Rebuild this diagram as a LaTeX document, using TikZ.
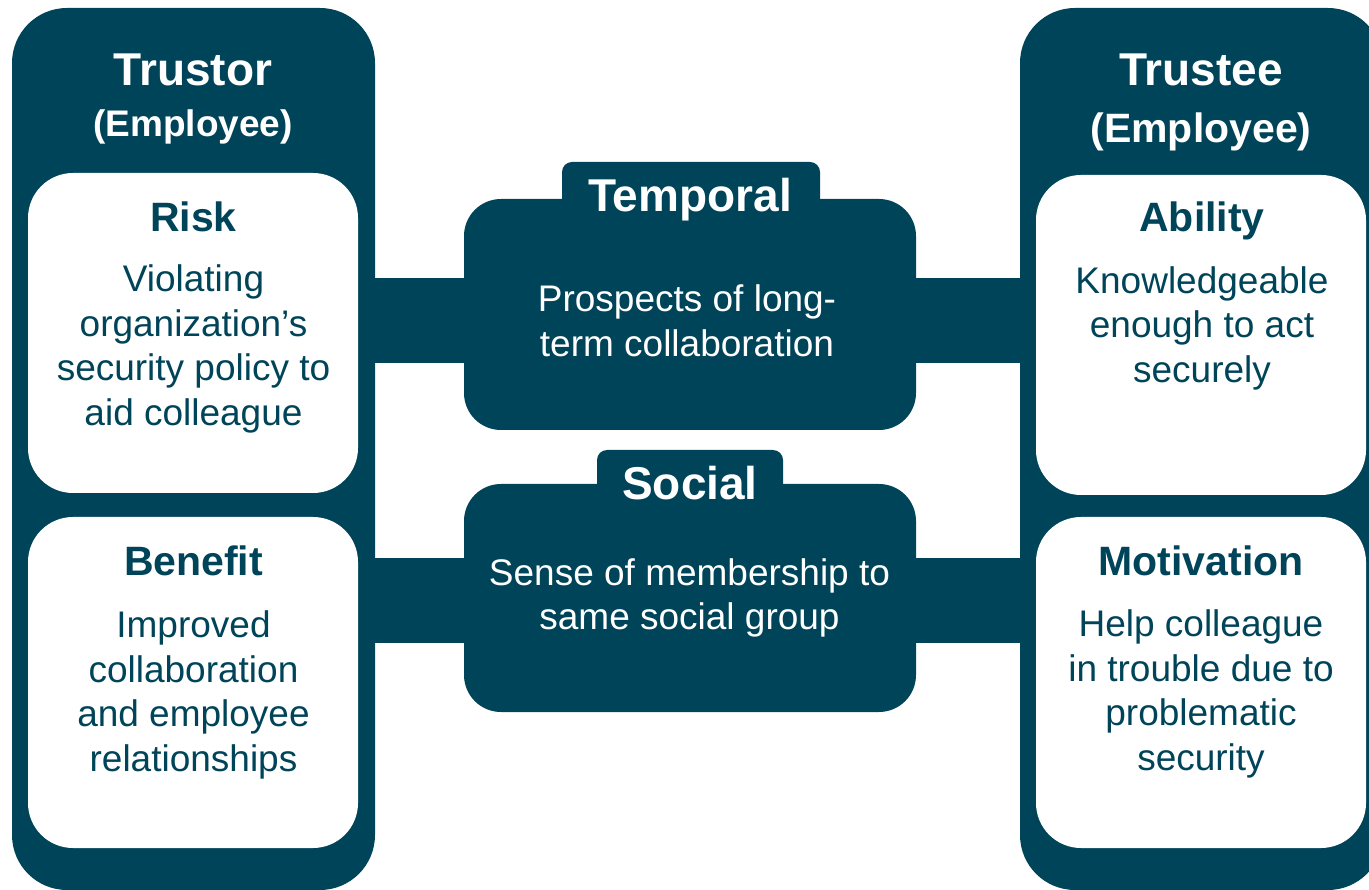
\documentclass[tikz,border=0pt]{standalone}
\usepackage{fontspec}
\setmainfont{Liberation Sans}
\definecolor{tealdark}{RGB}{0,68,89}
\begin{document}
\begin{tikzpicture}[x=1pt,y=-1pt,
  panel/.style={fill=tealdark, draw=none, rounded corners=55pt, inner sep=0pt, outer sep=0pt},
  card/.style={fill=white, draw=none, rounded corners=45pt, inner sep=0pt, outer sep=0pt},
  hub/.style={fill=tealdark, draw=none, rounded corners=37pt, inner sep=0pt, outer sep=0pt},
  tabbox/.style={fill=tealdark, draw=none, rounded corners=10pt, inner sep=0pt, outer sep=0pt},
  bar/.style={draw=tealdark, line width=85pt},
  head/.style={font=\bfseries\fontsize{46}{52}\selectfont, text=white, anchor=base, inner sep=0pt},
  sub/.style={font=\bfseries\fontsize{41}{48}\selectfont, text=tealdark, anchor=base, inner sep=0pt},
  body/.style={font=\fontsize{37}{44.5}\selectfont, align=center, inner sep=0pt, anchor=center},
]
\useasboundingbox (0,0) rectangle (1369,890);
\clip (0,0) rectangle (1369,890);

% side panels
\node[panel, minimum width=363pt, minimum height=882pt] (trustor) at (193.5,449) {};
\node[panel, minimum width=363pt, minimum height=882pt] (trustee) at (1201.5,449) {};

% cards
\node[card, minimum width=330pt, minimum height=320pt] (risk) at (193,333) {};
\node[card, minimum width=330pt, minimum height=331pt] (benefit) at (193,682.5) {};
\node[card, minimum width=330pt, minimum height=320pt] (ability) at (1201,335) {};
\node[card, minimum width=330pt, minimum height=331pt] (motivation) at (1201,682.5) {};

% central hubs
\node[tabbox, minimum width=258pt, minimum height=68pt] (ttab) at (691,196) {};
\node[hub, minimum width=452pt, minimum height=231pt] (temporal) at (690,314.5) {};
\node[tabbox, minimum width=186pt, minimum height=68pt] (stab) at (690,484) {};
\node[hub, minimum width=452pt, minimum height=228pt] (social) at (690,598) {};

% connector bars
\coordinate (ty) at (0,320.5);
\coordinate (sy) at (0,600);
\draw[bar] (trustor.east |- ty) -- (temporal.west |- ty);
\draw[bar] (temporal.east |- ty) -- (trustee.west |- ty);
\draw[bar] (trustor.east |- sy) -- (social.west |- sy);
\draw[bar] (social.east |- sy) -- (trustee.west |- sy);

% panel titles
\node[head] (trustorT) at (193,86) {Trustor};
\node[head, font=\bfseries\fontsize{37}{44}\selectfont] (trustorE) at (193,137) {(Employee)};
\node[head] (trusteeT) at (1201,86) {Trustee};
\node[head, font=\bfseries\fontsize{41}{48}\selectfont] (trusteeE) at (1201,143) {(Employee)};

% card texts
\node[sub] (riskH) at (193.5,232) {Risk};
\node[body, text=tealdark] (riskB) at (193.5,349) {Violating\\organization’s\\security policy to\\aid colleague};
\node[sub] (benefitH) at (193.5,575) {Benefit};
\node[body, text=tealdark] (benefitB) at (193.5,695) {Improved\\collaboration\\and employee\\relationships};
\node[sub] (abilityH) at (1202,232) {Ability};
\node[body, text=tealdark] (abilityB) at (1202,328) {Knowledgeable\\enough to act\\securely};
\node[sub] (motivationH) at (1201,575) {Motivation};
\node[body, text=tealdark] (motivationB) at (1201,694) {Help colleague\\in trouble due to\\problematic\\security};

% hub texts
\node[head] (temporalH) at (690,212) {Temporal};
\node[body, text=white] (temporalB) at (687,321) {Prospects of long-\\term collaboration};
\node[head] (socialH) at (690,500) {Social};
\node[body, text=white] (socialB) at (689.5,598) {Sense of membership to\\same social group};
\end{tikzpicture}
\end{document}
